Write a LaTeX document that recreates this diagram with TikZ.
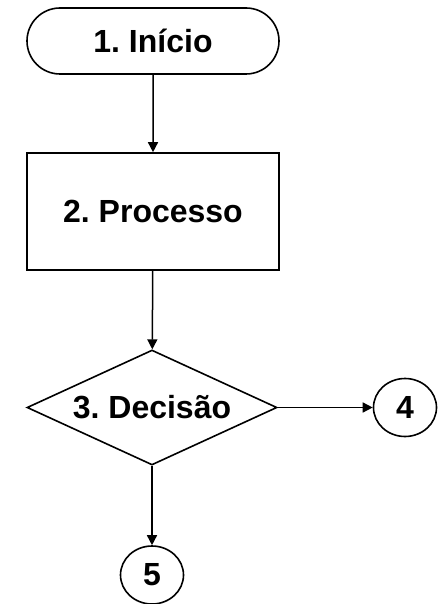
\documentclass[tikz,border=0pt]{standalone}
\usepackage{fontspec}
\setmainfont{Liberation Sans}
\usetikzlibrary{shapes.geometric, shapes.misc, arrows.meta}
\frenchspacing

\begin{document}
\begin{tikzpicture}[x=1pt, y=1pt, line width=1.6pt,
    every node/.style={font=\fontsize{32}{36}\selectfont\bfseries, draw, inner sep=0pt},
    inicio/.style={rounded rectangle, minimum width=252pt, minimum height=66pt},
    caixa/.style={rectangle, minimum width=252pt, minimum height=117pt},
    decisao/.style={diamond, aspect=2.17, minimum width=250pt, minimum height=115pt},
    conector/.style={ellipse, minimum width=63pt, minimum height=58pt},
    seta/.style={-{Triangle[length=10pt, width=10pt]}, line width=1.5pt}]
    \useasboundingbox (0, 0) rectangle (438, -604);

    \node [inicio] (ini) at (153, -41) {1. Início};
    \node [caixa] (proc) at (153, -211.5) {2. Processo};
    \node [decisao] (dec) at (152, -407.5) {3. Decisão};
    \node [conector] (c4) at (405, -407.5) {4};
    \node [conector] (c5) at (152, -575) {5};

    \draw [seta] (ini) -- (proc);
    \draw [seta] (proc) -- (dec);
    \draw [seta] (dec.east) -- (c4);
    \draw [seta] (dec.south) -- (c5);
\end{tikzpicture}
\end{document}
